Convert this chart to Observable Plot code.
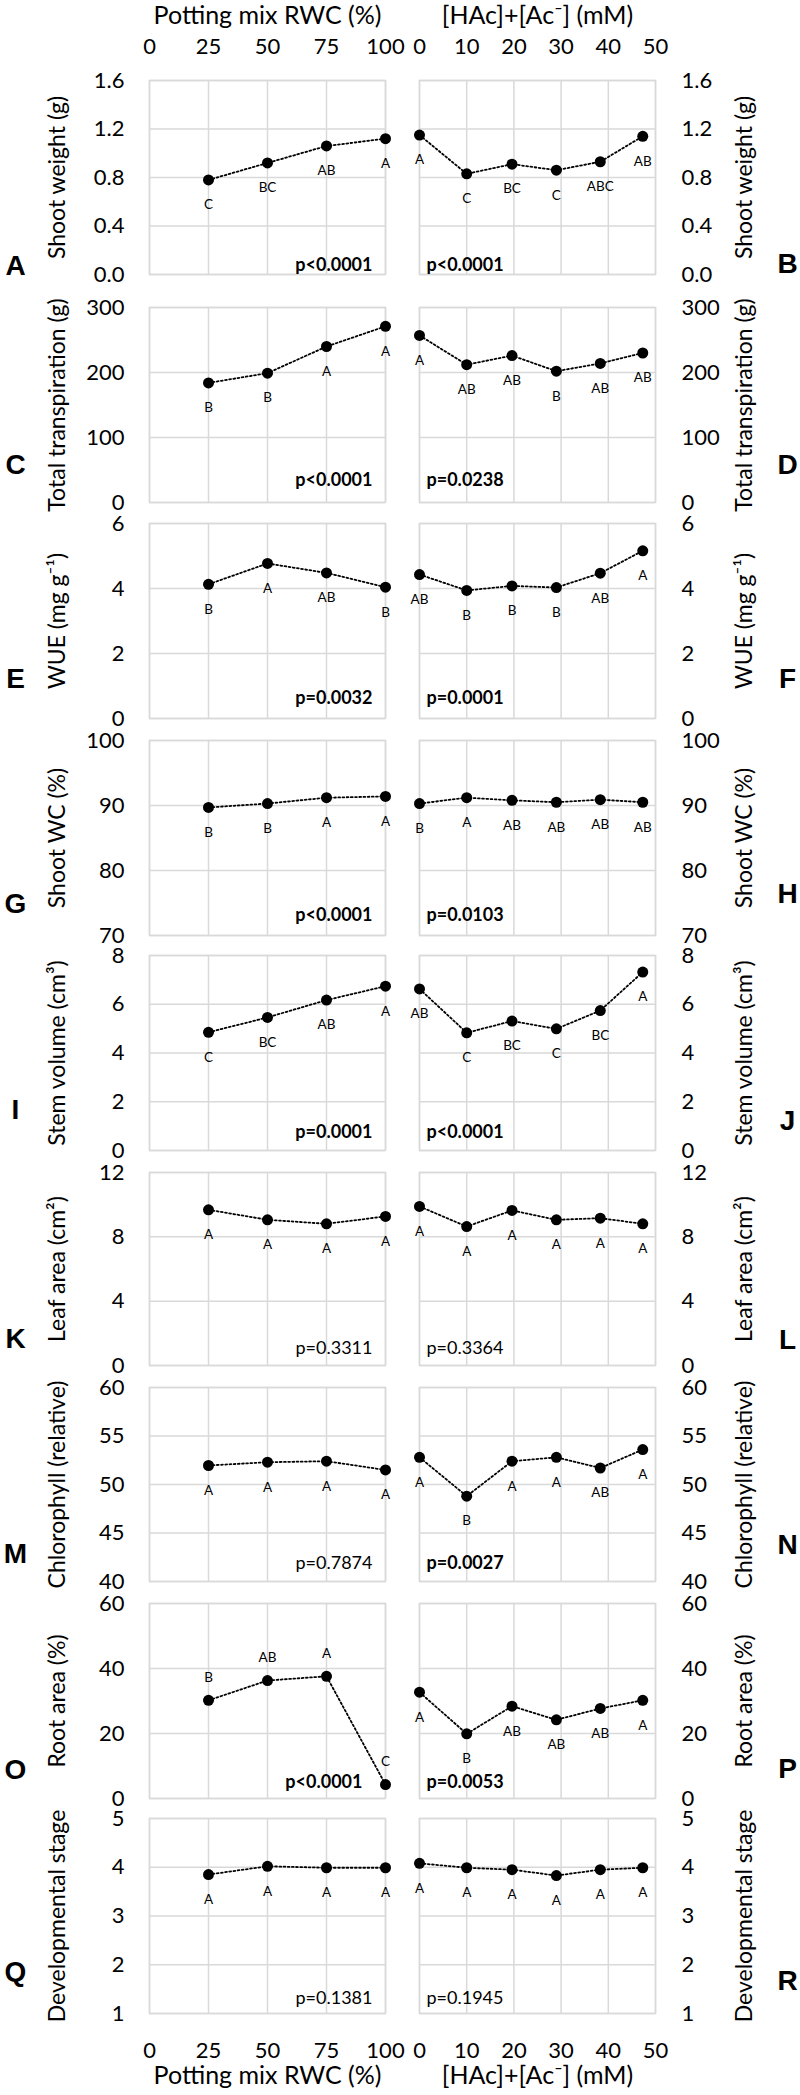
<!DOCTYPE html>
<html><head><meta charset="utf-8">
<script src="https://cdn.jsdelivr.net/npm/d3@7"></script>
<script src="https://cdn.jsdelivr.net/npm/@observablehq/plot@0.6"></script>
<style>
body{margin:0;background:#fff;}
#chart{position:relative;width:800px;height:2095px;overflow:hidden;}
#chart svg{position:absolute;}
</style></head><body><div id="chart"></div>
<script>
// ---- x values and tick labels ----
const rwc = [25, 50, 75, 100];
const acetate = [0, 10, 19.6, 29, 38.3, 47.3];
const rwcTicks = [0, 25, 50, 75, 100];
const acetateTicks = [0, 10, 20, 30, 40, 50];
const rwcTitle = "Potting mix RWC (%)";
const acetateTitle = "[HAc]+[Ac⁻] (mM)";

// ---- y titles and ticks ----
const yTitles = ["Shoot weight (g)", "Total transpiration (g)", "WUE (mg g⁻¹)", "Shoot WC (%)", "Stem volume (cm³)", "Leaf area (cm²)", "Chlorophyll (relative)", "Root area (%)", "Developmental stage"];
const shootWeightTicks = [0, 0.4, 0.8, 1.2, 1.6];
const transpTicks = [0, 100, 200, 300];
const wueTicks = [0, 2, 4, 6];
const wcTicks = [70, 80, 90, 100];
const stemTicks = [0, 2, 4, 6, 8];
const leafTicks = [0, 4, 8, 12];
const chlTicks = [40, 45, 50, 55, 60];
const rootTicks = [0, 20, 40, 60];
const devTicks = [1, 2, 3, 4, 5];

// ---- series values and letters ----
const shootWeightRWC = [0.78, 0.92, 1.06, 1.12];
const shootWeightAc = [1.15, 0.83, 0.91, 0.86, 0.93, 1.14];
const shootWeightRWCLetters = ["C", "BC", "AB", "A"];
const shootWeightAcLetters = ["A", "C", "BC", "C", "ABC", "AB"];

const transpRWC = [184, 199, 240, 271];
const transpAc = [257, 212, 226, 202, 214, 230];
const transpRWCLetters = ["B", "B", "A", "A"];
const transpAcLetters = ["A", "AB", "AB", "B", "AB", "AB"];

const wueRWC = [4.13, 4.77, 4.48, 4.04];
const wueAc = [4.43, 3.94, 4.08, 4.03, 4.47, 5.16];
const wueRWCLetters = ["B", "A", "AB", "B"];
const wueAcLetters = ["AB", "B", "B", "B", "AB", "A"];

const wcRWC = [89.7, 90.3, 91.2, 91.4];
const wcAc = [90.3, 91.2, 90.8, 90.5, 90.9, 90.5];
const wcRWCLetters = ["B", "B", "A", "A"];
const wcAcLetters = ["B", "A", "AB", "AB", "AB", "AB"];

const stemRWC = [4.85, 5.46, 6.17, 6.74];
const stemAc = [6.63, 4.83, 5.31, 4.99, 5.74, 7.32];
const stemRWCLetters = ["C", "BC", "AB", "A"];
const stemAcLetters = ["AB", "C", "BC", "C", "BC", "A"];

const leafRWC = [9.68, 9.06, 8.81, 9.27];
const leafAc = [9.89, 8.64, 9.64, 9.06, 9.16, 8.81];
const leafRWCLetters = ["A", "A", "A", "A"];
const leafAcLetters = ["A", "A", "A", "A", "A", "A"];

const chlRWC = [51.96, 52.3, 52.4, 51.5];
const chlAc = [52.8, 48.8, 52.4, 52.8, 51.7, 53.6];
const chlRWCLetters = ["A", "A", "A", "A"];
const chlAcLetters = ["A", "B", "A", "A", "AB", "A"];

const rootRWC = [30.2, 36.3, 37.6, 4.3];
const rootAc = [32.7, 19.9, 28.4, 24.2, 27.7, 30.2];
const rootRWCLetters = ["B", "AB", "A", "C"];
const rootAcLetters = ["A", "B", "AB", "AB", "AB", "A"];

const devRWC = [3.85, 4.02, 3.99, 3.99];
const devAc = [4.08, 3.99, 3.95, 3.83, 3.95, 3.99];
const devRWCLetters = ["A", "A", "A", "A"];
const devAcLetters = ["A", "A", "A", "A", "A", "A"];

const pRWC = ["p<0.0001", "p<0.0001", "p=0.0032", "p<0.0001", "p=0.0001", "p=0.3311", "p=0.7874", "p<0.0001", "p=0.1381"];
const pAc = ["p<0.0001", "p=0.0238", "p=0.0001", "p=0.0103", "p<0.0001", "p=0.3364", "p=0.0027", "p=0.0053", "p=0.1945"];
const panelLettersL = ["A", "C", "E", "G", "I", "K", "M", "O", "Q"];
const panelLettersR = ["B", "D", "F", "H", "J", "L", "N", "P", "R"];

// ---- layout (positions only) ----
const panelTop = [80, 307, 523, 740, 955, 1172, 1387, 1603, 1818];
const panelHeight = [194, 195, 195, 195, 195, 193, 194, 195, 195];
const letterOffL = [0, 29, 31, 23, 32, 18, 19, 20, 33];
const letterOffR = [2, 29, 31, 33, 21, 17, 28, 21, 24];
const pBase = [4, 17, 15, 15, 13, 12, 13, 11, 10];

// build rows from the arrays
const rows = [
  [shootWeightTicks, shootWeightRWC, shootWeightRWCLetters, shootWeightAc, shootWeightAcLetters],
  [transpTicks, transpRWC, transpRWCLetters, transpAc, transpAcLetters],
  [wueTicks, wueRWC, wueRWCLetters, wueAc, wueAcLetters],
  [wcTicks, wcRWC, wcRWCLetters, wcAc, wcAcLetters],
  [stemTicks, stemRWC, stemRWCLetters, stemAc, stemAcLetters],
  [leafTicks, leafRWC, leafRWCLetters, leafAc, leafAcLetters],
  [chlTicks, chlRWC, chlRWCLetters, chlAc, chlAcLetters],
  [rootTicks, rootRWC, rootRWCLetters, rootAc, rootAcLetters],
  [devTicks, devRWC, devRWCLetters, devAc, devAcLetters]
];

const chart = document.getElementById("chart");
const GRID = {stroke: "#d9d9d9", strokeOpacity: 1, strokeWidth: 1.5};

function panel(row, left) {
  const [yt, vL, lL, vR, lR] = rows[row];
  const xs = left ? rwc : acetate;
  const ys = left ? vL : vR;
  const ls = left ? lL : lR;
  const xTicks = left ? rwcTicks : acetateTicks;
  const data = xs.map((x, i) => ({x, y: ys[i], l: ls[i]}));
  const p = left ? pRWC[row] : pAc[row];
  const bold = parseFloat(p.slice(2)) < 0.05;
  const isTop = row === 0, isBottom = row === 8;
  const mt = isTop ? 80 : 12, mb = isBottom ? 82 : 12;
  const h = panelHeight[row];
  const above = left && row === 7;
  const marks = [
    Plot.gridX(xTicks, GRID),
    Plot.gridY(yt, GRID),
    Plot.frame({stroke: "#d9d9d9", strokeWidth: 1.5}),
    Plot.axisY(yt, {anchor: left ? "left" : "right", tickSize: 0, tickPadding: left ? 25 : 26,
      tickFormat: row === 0 ? d3.format(".1f") : d3.format("d"), fontSize: 22, label: null}),
    Plot.line(data, {x: "x", y: "y", stroke: "black", strokeWidth: 1.8, strokeDasharray: "1.8,2.4"}),
    Plot.dot(data, {x: "x", y: "y", r: 5.5, fill: "black"}),
    Plot.text(data, {x: "x", y: "y", text: "l", dy: above ? -23 : 25, fontSize: 13.5}),
    Plot.text([p], {frameAnchor: left ? "bottom-right" : "bottom-left", textAnchor: left ? "end" : "start",
      lineAnchor: "bottom", dx: left ? (row === 7 ? -23 : -13) : 7, dy: -pBase[row], fontSize: 18,
      fontWeight: bold ? "bold" : "normal"}),
    Plot.text([yTitles[row]], {frameAnchor: left ? "left" : "right", textAnchor: "middle", rotate: -90,
      dx: left ? -92 : 89, fontSize: 23}),
    Plot.text([left ? panelLettersL[row] : panelLettersR[row]], {frameAnchor: left ? "bottom-left" : "bottom-right",
      textAnchor: "middle", dx: left ? -134 : 132, dy: -(left ? letterOffL[row] : letterOffR[row]),
      fontSize: 28, fontWeight: "bold", fontFamily: "Liberation Sans, Arial, sans-serif"})
  ];
  if (isTop) {
    marks.push(Plot.axisX(xTicks, {anchor: "top", tickSize: 0, tickPadding: 27, fontSize: 22, label: null}));
    marks.push(Plot.text([left ? rwcTitle : acetateTitle], {frameAnchor: "top", lineAnchor: "bottom", dy: -57, fontSize: 25}));
  }
  if (isBottom) {
    marks.push(Plot.axisX(xTicks, {anchor: "bottom", tickSize: 0, tickPadding: 29, fontSize: 22, label: null}));
    marks.push(Plot.text([left ? rwcTitle : acetateTitle], {frameAnchor: "bottom", lineAnchor: "bottom", dy: 70, fontSize: 25}));
  }
  const svg = Plot.plot({
    width: 400,
    height: mt + h + mb,
    marginTop: mt, marginBottom: mb,
    marginLeft: left ? 149 : 19, marginRight: left ? 15 : 145,
    x: {domain: left ? [0, 100] : [0, 50], axis: null},
    y: {domain: [yt[0], yt[yt.length - 1]]},
    style: {background: "transparent", overflow: "visible", fontFamily: "Lato, sans-serif", color: "#000"},
    marks
  });
  svg.style.left = (left ? 0 : 400) + "px";
  svg.style.top = (panelTop[row] - mt) + "px";
  chart.appendChild(svg);
}

for (let r = 0; r < rows.length; r++) { panel(r, true); panel(r, false); }
</script></body></html>
